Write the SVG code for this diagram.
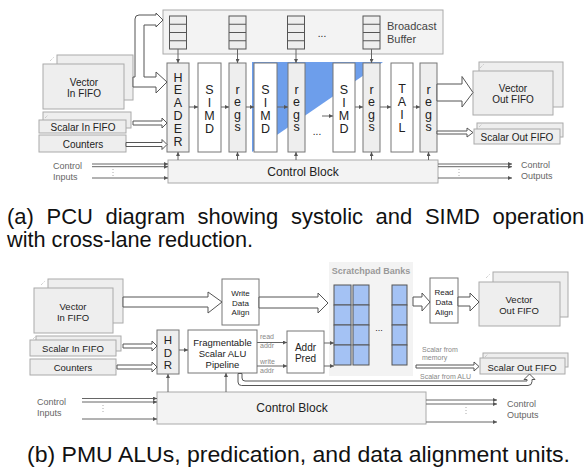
<svg xmlns="http://www.w3.org/2000/svg" width="584" height="468" viewBox="0 0 584 468">
<defs>
<marker id="ah" viewBox="0 0 6 6" refX="6" refY="3" markerWidth="4" markerHeight="4" markerUnits="userSpaceOnUse" orient="auto"><path d="M0,0 L6,3 L0,6 z" fill="#555"/></marker>
<style>
.fifo{fill:#eeeeee;stroke:#aaaaaa;stroke-width:1}
.gbox{fill:#eeeeee;stroke:#777;stroke-width:1}
.wbox{fill:#ffffff;stroke:#777;stroke-width:1}
.panel{fill:#f3f3f3;stroke:#aaaaaa;stroke-width:1}
.cell{fill:#eeeeee;stroke:#555;stroke-width:1}
.bank{fill:#a4c2f4;stroke:#555;stroke-width:1}
.t{font-family:"Liberation Sans",Arial,sans-serif;fill:#222;text-anchor:middle}
.v{font-family:"Liberation Sans",Arial,sans-serif;fill:#222;text-anchor:middle;font-size:12.5px}
.s{font-family:"Liberation Sans",Arial,sans-serif;fill:#666;font-size:9px}
.lbl{font-family:"Liberation Sans",Arial,sans-serif;fill:#888;font-size:7px}
.cap{font-family:"Liberation Sans",Arial,sans-serif;fill:#111;font-size:22px}
.c{stroke:#555;stroke-width:1;fill:none}
.ca{stroke:#666;stroke-width:1;fill:none;marker-end:url(#ah)}
.dot{stroke:#aaa;stroke-width:1;stroke-dasharray:1,2;fill:none}
.ba{fill:#fff;stroke:#555;stroke-width:1}
.mk{stroke:#aaa;stroke-width:0.8;stroke-dasharray:1,1}
</style>
</defs>

<!-- ================= (a) PCU ================= -->
<g id="broadcast-buffer">
<rect class="panel" x="163" y="10" width="280" height="44"/>
<g id="bb-stack1"><rect class="cell" x="169.5" y="16" width="17" height="33"/><path class="c" d="M169.5,24.25H186.5M169.5,32.5H186.5M169.5,40.75H186.5"/></g>
<g id="bb-stack2"><rect class="cell" x="229" y="16" width="17" height="33"/><path class="c" d="M229,24.25H246M229,32.5H246M229,40.75H246"/></g>
<g id="bb-stack3"><rect class="cell" x="287.5" y="16" width="17" height="33"/><path class="c" d="M287.5,24.25H304.5M287.5,32.5H304.5M287.5,40.75H304.5"/></g>
<g id="bb-stack4"><rect class="cell" x="363" y="16" width="17" height="33"/><path class="c" d="M363,24.25H380M363,32.5H380M363,40.75H380"/></g>
<text class="t" x="322" y="37" font-size="10" fill="#555">...</text>
<text x="387" y="30" font-family="Liberation Sans, Arial, sans-serif" font-size="11" fill="#444"><tspan x="387" y="30">Broadcast</tspan><tspan x="387" y="43">Buffer</tspan></text>
</g>

<polygon id="reduction-triangle" points="252,62 383,62 252,152" fill="#6d9eeb"/>

<g id="header"><rect class="gbox" x="167" y="63" width="22" height="89"/>
<text class="v"><tspan x="178" y="81.5">H</tspan><tspan x="178" y="94.3">E</tspan><tspan x="178" y="107.1">A</tspan><tspan x="178" y="119.9">D</tspan><tspan x="178" y="132.7">E</tspan><tspan x="178" y="145.5">R</tspan></text></g>
<g id="simd1"><rect class="wbox" x="198" y="63" width="23" height="89"/>
<text class="v"><tspan x="209.5" y="93.5">S</tspan><tspan x="209.5" y="106.5">I</tspan><tspan x="209.5" y="119.5">M</tspan><tspan x="209.5" y="132.5">D</tspan></text></g>
<g id="regs1"><rect class="gbox" x="229" y="63" width="17" height="89"/>
<text class="v"><tspan x="237.5" y="93.5">r</tspan><tspan x="237.5" y="106">e</tspan><tspan x="237.5" y="118.5">g</tspan><tspan x="237.5" y="131">s</tspan></text></g>
<g id="simd2"><rect class="wbox" x="254" y="63" width="23" height="89"/>
<text class="v"><tspan x="265.5" y="93.5">S</tspan><tspan x="265.5" y="106.5">I</tspan><tspan x="265.5" y="119.5">M</tspan><tspan x="265.5" y="132.5">D</tspan></text></g>
<g id="regs2"><rect class="gbox" x="288" y="63" width="17" height="89"/>
<text class="v"><tspan x="296.5" y="93.5">r</tspan><tspan x="296.5" y="106">e</tspan><tspan x="296.5" y="118.5">g</tspan><tspan x="296.5" y="131">s</tspan></text></g>
<g id="simd3"><rect class="wbox" x="333" y="63" width="22" height="89"/>
<text class="v"><tspan x="344" y="93.5">S</tspan><tspan x="344" y="106.5">I</tspan><tspan x="344" y="119.5">M</tspan><tspan x="344" y="132.5">D</tspan></text></g>
<g id="regs3"><rect class="gbox" x="363" y="63" width="17" height="89"/>
<text class="v"><tspan x="371.5" y="93.5">r</tspan><tspan x="371.5" y="106">e</tspan><tspan x="371.5" y="118.5">g</tspan><tspan x="371.5" y="131">s</tspan></text></g>
<g id="tail"><rect class="wbox" x="391" y="63" width="22" height="89"/>
<text class="v"><tspan x="402" y="92.5">T</tspan><tspan x="402" y="105.5">A</tspan><tspan x="402" y="118.5">I</tspan><tspan x="402" y="131.5">L</tspan></text></g>
<g id="regs4"><rect class="gbox" x="420" y="63" width="17" height="89"/>
<text class="v"><tspan x="428.5" y="93.5">r</tspan><tspan x="428.5" y="106">e</tspan><tspan x="428.5" y="118.5">g</tspan><tspan x="428.5" y="131">s</tspan></text></g>
<text class="t" x="317" y="135" font-size="10" fill="#555">...</text>

<g id="control-block-a"><rect class="panel" x="168" y="160" width="270" height="23"/>
<text class="t" x="303" y="176" font-size="12">Control Block</text></g>

<g id="vector-in-a"><rect class="fifo" x="57" y="55" width="76" height="45"/><rect class="fifo" x="43" y="64" width="81" height="45"/>
<line class="mk" x1="50" y1="61" x2="54" y2="57"/>
<text class="t" font-size="10"><tspan x="84" y="86">Vector</tspan><tspan x="84" y="97">In FIFO</tspan></text></g>
<g id="scalar-in-a"><rect class="fifo" x="43" y="112" width="88" height="16"/><rect class="fifo" x="39" y="120" width="87" height="13"/>
<line class="mk" x1="45" y1="118" x2="48" y2="115"/>
<text class="t" x="83" y="130.5" font-size="10">Scalar In FIFO</text></g>
<g id="counters-a"><rect class="fifo" x="39" y="135" width="87" height="17"/>
<text class="t" x="83" y="147.5" font-size="10">Counters</text></g>
<g id="vector-out-a"><rect class="fifo" x="479" y="62" width="84" height="45"/><rect class="fifo" x="473" y="71" width="80" height="44"/>
<line class="mk" x1="480" y1="68" x2="484" y2="64"/>
<text class="t" font-size="10"><tspan x="513" y="92">Vector</tspan><tspan x="513" y="102.5">Out FIFO</tspan></text></g>
<g id="scalar-out-a"><rect class="fifo" x="477" y="123" width="86" height="14"/><rect class="fifo" x="474" y="129" width="86" height="15"/>
<line class="mk" x1="479" y1="127" x2="482" y2="124"/>
<text class="t" x="517" y="140.5" font-size="10">Scalar Out FIFO</text></g>

<g id="labels-a">
<text class="s"><tspan x="53" y="169">Control</tspan><tspan x="53" y="180">Inputs</tspan></text>
<text class="s"><tspan x="521" y="167.5">Control</tspan><tspan x="521" y="178.5">Outputs</tspan></text>
</g>

<g id="connectors-a">
<path class="ba" d="M133,87 H156 V93 L167,82 L156,72 V77 H144 V25 H156 V27 L163,20 L156,13 V15 H139 Q135,15 135,19 V77 H133 Z"/>
<polygon class="ba" points="133,121 162,121 162,118 167,123 162,128 162,125 133,125"/>
<polygon class="ba" points="126,142.5 162,142.5 162,139.5 167,144.5 162,149.5 162,146.5 126,146.5"/>
<polygon class="ba" points="437,84 462,84 462,76.5 473,92.5 462,107 462,101 437,101"/>
<polygon class="ba" points="437,131 467,131 467,128 473,132.5 467,137 467,134 437,134"/>
<path class="ca" d="M178,49V63"/><path class="ca" d="M237.5,49V63"/><path class="ca" d="M296,49V63"/><path class="ca" d="M371.5,49V63"/>
<path class="ca" d="M189,107H198"/><path class="ca" d="M221,107H229"/><path class="ca" d="M246,107H254"/><path class="ca" d="M277,107H288"/>
<path class="ca" d="M322,116H333"/><path class="ca" d="M355,107H363"/><path class="ca" d="M380,107H391"/><path class="ca" d="M413,107H420"/>
<path class="ca" d="M178,160V152"/><path class="ca" d="M237.5,160V152"/><path class="ca" d="M296,160V152"/><path class="ca" d="M371.5,160V152"/><path class="ca" d="M428.5,160V152"/>
<path class="ca" d="M92,164H168"/><path class="ca" d="M92,166.7H168"/><path class="ca" d="M92,178H168"/>
<path class="dot" d="M113,169V176"/>
<path class="ca" d="M438,164H512"/><path class="ca" d="M438,166.7H512"/><path class="ca" d="M438,178H512"/>
<path class="dot" d="M459,169V176"/>
</g>

<g id="caption-a">
<text class="cap" y="224"><tspan x="7">(a)</tspan><tspan x="46.5">PCU</tspan><tspan x="105.5">diagram</tspan><tspan x="197.6">showing</tspan><tspan x="290.9">systolic</tspan><tspan x="375.6">and</tspan><tspan x="424.9">SIMD</tspan><tspan x="492.5">operation</tspan></text>
<text class="cap" x="7" y="247" textLength="246" lengthAdjust="spacingAndGlyphs">with cross-lane reduction.</text>
</g>

<!-- ================= (b) PMU ================= -->
<g id="scratchpad-banks">
<rect x="329" y="262" width="84" height="114" fill="#f3f3f3"/>
<text x="371" y="274" font-family="Liberation Sans, Arial, sans-serif" font-size="9" font-weight="bold" fill="#999" text-anchor="middle">Scratchpad Banks</text>
<g id="bank1"><rect class="bank" x="334" y="285" width="17" height="20"/><rect class="bank" x="334" y="305" width="17" height="20"/><rect class="bank" x="334" y="325" width="17" height="20"/><rect class="bank" x="334" y="345" width="17" height="20"/></g>
<g id="bank2"><rect class="bank" x="353" y="285" width="16" height="20"/><rect class="bank" x="353" y="305" width="16" height="20"/><rect class="bank" x="353" y="325" width="16" height="20"/><rect class="bank" x="353" y="345" width="16" height="20"/></g>
<g id="bank3"><rect class="bank" x="392" y="285" width="15" height="20"/><rect class="bank" x="392" y="305" width="15" height="20"/><rect class="bank" x="392" y="325" width="15" height="20"/><rect class="bank" x="392" y="345" width="15" height="20"/></g>
<text class="t" x="379" y="331" font-size="9" fill="#555">...</text>
</g>

<g id="vector-in-b"><rect class="fifo" x="48" y="279" width="75" height="44"/><rect class="fifo" x="34" y="288" width="79" height="45"/>
<line class="mk" x1="41" y1="285" x2="45" y2="281"/>
<text class="t" font-size="9.5"><tspan x="73" y="309.5">Vector</tspan><tspan x="73" y="320.5">In FIFO</tspan></text></g>
<g id="scalar-in-b"><rect class="fifo" x="36" y="336" width="85" height="15"/><rect class="fifo" x="30" y="340" width="86" height="16"/>
<line class="mk" x1="33" y1="339" x2="36" y2="336"/>
<text class="t" x="73" y="351.5" font-size="9.5">Scalar In FIFO</text></g>
<g id="counters-b"><rect class="fifo" x="30" y="359" width="86" height="16"/>
<text class="t" x="73" y="370.5" font-size="9.5">Counters</text></g>

<g id="write-data-align"><rect class="wbox" x="222" y="279" width="37" height="46"/>
<text class="t" font-size="8"><tspan x="240.5" y="296">Write</tspan><tspan x="240.5" y="305.5">Data</tspan><tspan x="240.5" y="315">Align</tspan></text></g>
<g id="read-data-align"><rect class="wbox" x="430" y="278" width="28" height="45"/>
<text class="t" font-size="8"><tspan x="444" y="295">Read</tspan><tspan x="444" y="305">Data</tspan><tspan x="444" y="314.5">Align</tspan></text></g>
<g id="vector-out-b"><rect class="fifo" x="493" y="272" width="75" height="45"/><rect class="fifo" x="479" y="282" width="81" height="44"/>
<line class="mk" x1="486" y1="278" x2="490" y2="274"/>
<text class="t" font-size="9.5"><tspan x="519" y="302.5">Vector</tspan><tspan x="519" y="313.5">Out FIFO</tspan></text></g>

<g id="hdr"><rect class="gbox" x="157" y="330" width="22" height="44"/>
<text class="t" font-size="11.5"><tspan x="168" y="344">H</tspan><tspan x="168" y="356.5">D</tspan><tspan x="168" y="369">R</tspan></text></g>
<g id="scalar-alu"><rect class="wbox" x="188" y="330" width="69" height="43"/>
<text class="t" font-size="9.5"><tspan x="222.5" y="345.5">Fragmentable</tspan><tspan x="222.5" y="356.5">Scalar ALU</tspan><tspan x="222.5" y="367.5">Pipeline</tspan></text></g>
<g id="addr-pred"><rect class="wbox" x="287" y="331" width="37" height="42"/>
<text class="t" font-size="10"><tspan x="305.5" y="350.5">Addr</tspan><tspan x="305.5" y="361.5">Pred</tspan></text></g>
<g id="scalar-out-b"><rect class="fifo" x="483" y="353" width="85" height="14"/><rect class="fifo" x="480" y="358" width="85" height="16"/>
<line class="mk" x1="485" y1="357" x2="488" y2="354"/>
<text class="t" x="522" y="370.5" font-size="9.5">Scalar Out FIFO</text></g>

<g id="control-block-b"><rect class="panel" x="157" y="392" width="269" height="32"/>
<text class="t" x="292" y="412" font-size="12">Control Block</text></g>

<g id="labels-b">
<text class="lbl"><tspan x="260" y="339">read</tspan><tspan x="260" y="347.5">addr</tspan></text>
<text class="lbl"><tspan x="260" y="364">write</tspan><tspan x="260" y="373">addr</tspan></text>
<text class="lbl"><tspan x="422" y="351.5">Scalar from</tspan><tspan x="422" y="359.5">memory</tspan></text>
<text class="lbl" x="420" y="378.5">Scalar from ALU</text>
<text class="s"><tspan x="37" y="404.5">Control</tspan><tspan x="37" y="416">Inputs</tspan></text>
<text class="s"><tspan x="507" y="407">Control</tspan><tspan x="507" y="417.5">Outputs</tspan></text>
</g>

<g id="connectors-b">
<polygon class="ba" points="123,297 208,297 208,292 222,302 208,313 208,307 123,307"/>
<polygon class="ba" points="259,297 318,297 318,293 328,303 318,313 318,308 259,308"/>
<polygon class="ba" points="413,297 422,297 422,293 430,302 422,311 422,306 413,306"/>
<polygon class="ba" points="458,297 470,297 470,293 479,302 470,311 470,306 458,306"/>
<polygon class="ba" points="123,344 152,344 152,341 157,346 152,351 152,348 123,348"/>
<polygon class="ba" points="117,365 152,365 152,362 157,367 152,372 152,369 117,369"/>
<polygon class="ba" points="416,365 474,365 474,362 479,366.5 474,371 474,368 416,368"/>
<path class="ba" d="M238,373.5 V382 Q238,385.5 241.5,385.5 H528 Q532,385.5 532,381.5 V379.5 H535 L529.5,374 L524,379.5 H527 V381 H245 Q242,381 242,378 V373.5 Z"/>
<path class="ca" d="M179,350H188"/>
<path class="ca" d="M257,342.5H287"/><path class="ca" d="M257,366H287"/>
<path class="ca" d="M324,343H334"/><path class="ca" d="M324,366H334"/>
<path class="ca" d="M168,392V374"/><path class="ca" d="M226,392V373"/>
<path class="ca" d="M82,398.5H157"/><path class="ca" d="M82,402H157"/><path class="ca" d="M82,419H157"/>
<path class="dot" d="M103,405V414"/>
<path class="ca" d="M426,400H497"/><path class="ca" d="M426,404H497"/><path class="ca" d="M426,422H497"/>
<path class="dot" d="M466,407V416"/>
</g>

<g id="caption-b">
<text class="cap" x="27" y="461.5" textLength="543" lengthAdjust="spacingAndGlyphs">(b) PMU ALUs, predication, and data alignment units.</text>
</g>
</svg>
